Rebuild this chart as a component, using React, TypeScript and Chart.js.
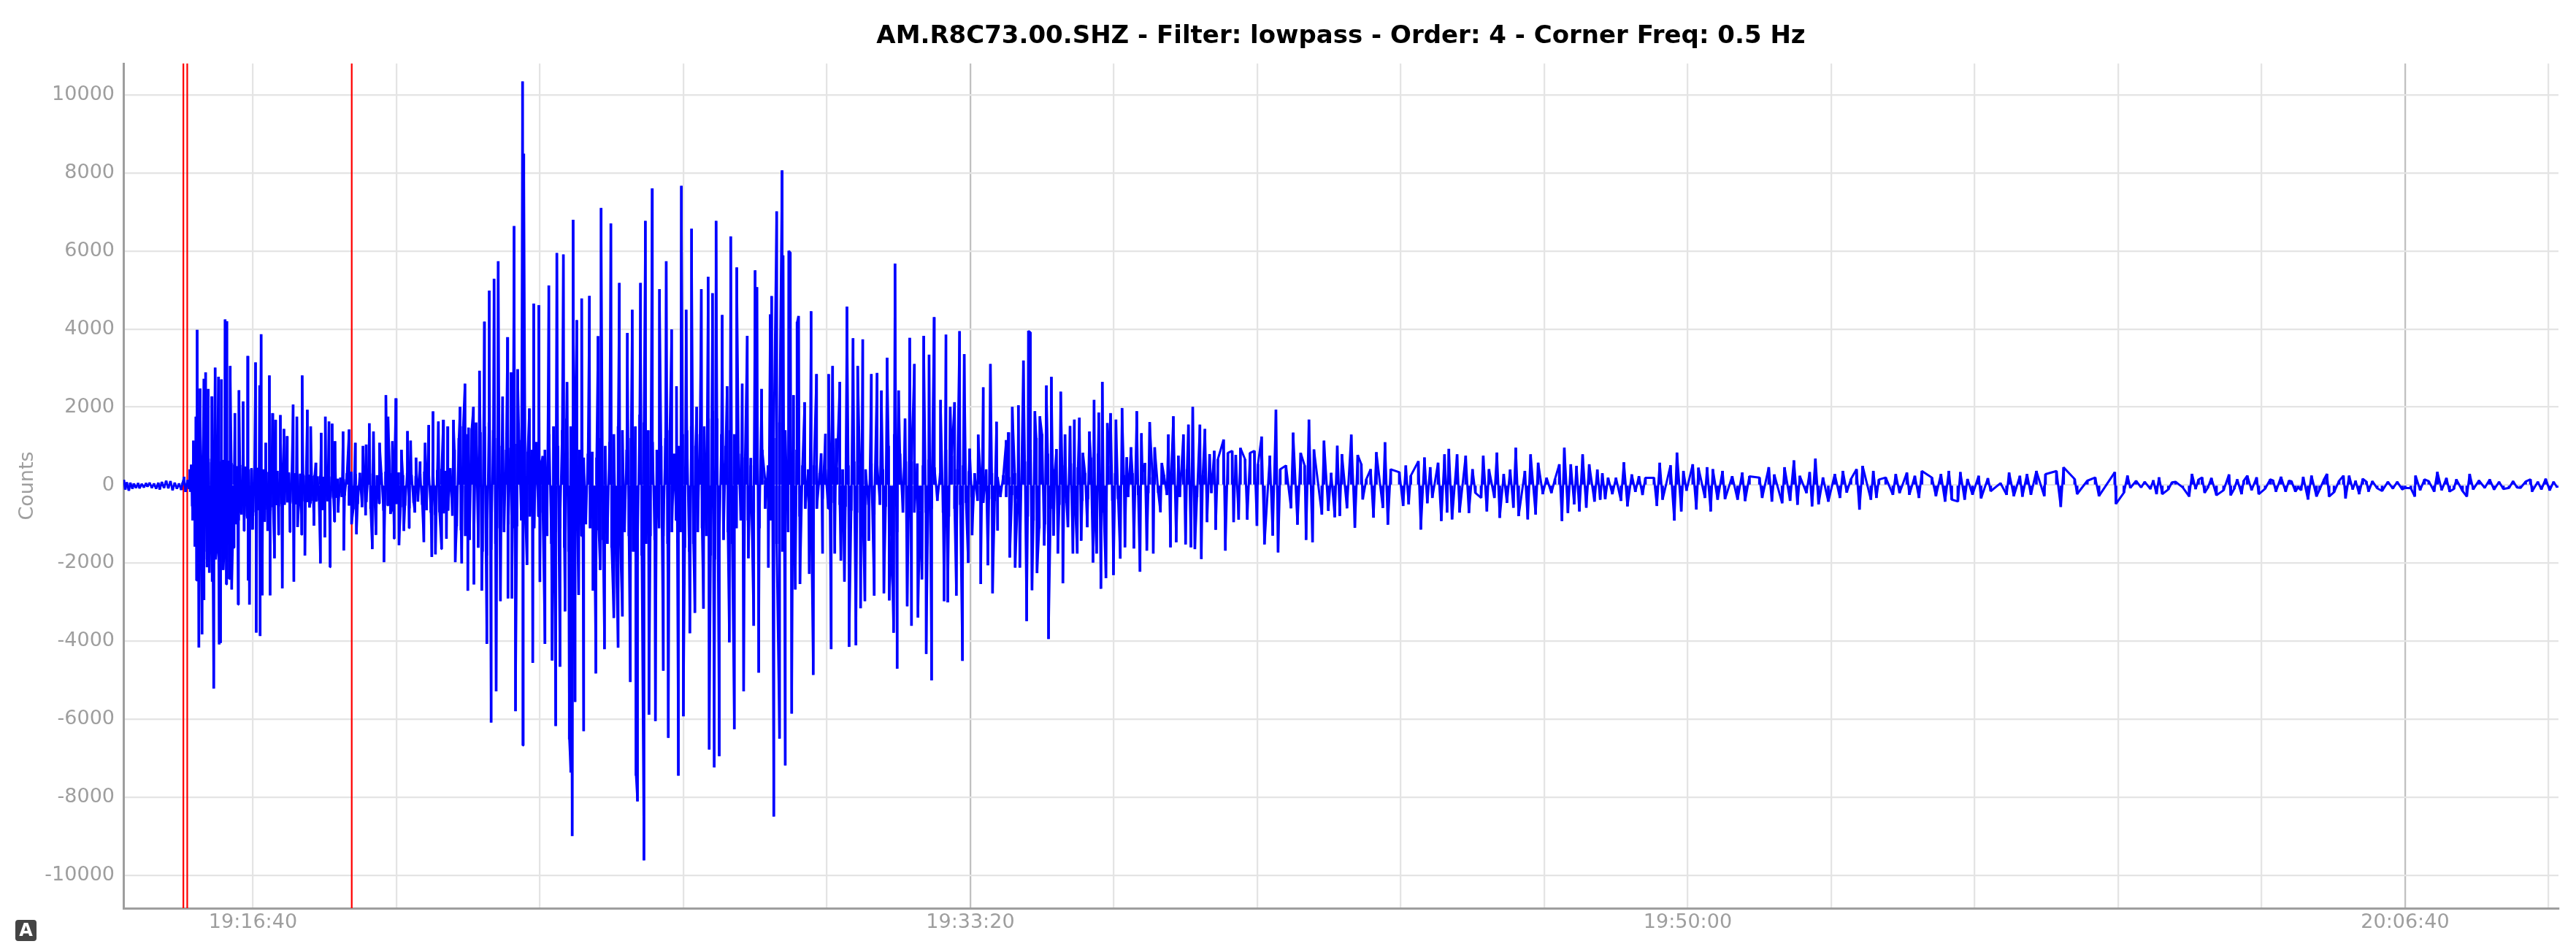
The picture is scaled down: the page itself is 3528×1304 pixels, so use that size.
import React, { useEffect, useRef } from "react";
import { Chart, registerables } from "chart.js";

Chart.register(...registerables);

const chartTitle = "AM.R8C73.00.SHZ - Filter: lowpass - Order: 4 - Corner Freq: 0.5 Hz";
const yAxisTitle = "Counts";
const countTicks = [-10000,-8000,-6000,-4000,-2000,0,2000,4000,6000,8000,10000];
const gridSeconds = [0,200,400,600,800,1000,1200,1400,1600,1800,2000,2200,2400,2600,2800,3000,3200];
const timeTickSeconds = [0, 1000, 2000, 3000];
const timeTickLabels = ["19:16:40", "19:33:20", "19:50:00", "20:06:40"];
const darkGridSeconds = [1000, 3000];
const pickSeconds = [-97, -91.6, 137.7];

// Seconds after 19:16:40, counts.
const noiseSeconds = [-180,-178,-176,-173,-171,-168,-166,-163,-160,-158,-155,-152,-149,-147,-144,-141,-138,-135,-132,-130,-127,-124,-121,-118,-115,-112,-109,-106,-103,-100,-98,-96,-94,-91,-89];
const noiseCounts = [130,-110,70,-140,60,-90,40,-70,50,-80,30,-60,50,-40,60,-70,40,-90,60,-110,80,-70,110,-80,100,-130,60,-90,40,-120,60,210,-170,130,-100];

const onsetPeakSeconds = [-88,-83,-79.5,-77.8,-73.7,-68.3,-66,-62.5,-57.4,-52.7,-48,-44,-38.8,-36.4,-31.7,-25.2,-19.5,-13.7,-7.3,3.6,9.3,11.4,17.8,22.9,27.3,31.4,38.2,43.2,47.6,56,61.2,68.7,75.8,80.5,87.6,95.1,100.9,106,110.4,114.4,125.6,134,142.6,153.4,157.8,162.2,168,176.5,185.3,188.3,194.4,199.2,207,215.4,219.8,227.3,233,240,245,251,258.5,265.3,271.4];
const onsetPeakCounts = [400,1135,1750,3975,2470,2720,2885,2460,2270,3005,2770,2705,4240,4195,3050,1840,2425,2140,3305,3140,2550,3860,1080,2805,1840,1670,1790,1435,1250,2060,1750,2805,1925,1500,570,1335,1750,1625,1570,1120,1370,1420,1080,1000,1035,1580,1370,1080,2300,1750,1120,2220,900,1380,1135,700,600,1080,1535,1885,1625,1670,1500];
const onsetTroughSeconds = [-87.3,-84.6,-81,-78.5,-75.4,-71,-68.3,-64,-60.8,-56.8,-54.7,-50.7,-47,-45.2,-41.5,-37,-33,-29.6,-26.9,-20.5,-16.8,-12.3,-6.6,-4.9,-0.5,4.6,10,13,16.4,20.5,23.9,30,35.8,40.9,48.3,51.7,57,62.2,68,72.4,78.8,85,94,96.8,100.2,107.6,113.7,118.8,126.6,137.5,144.3,157,166.3,171.4,182.6,191.7,196.8,203.6,210.4,217.8,225.6,238.2,249.3,254.4,262.9,269.7];
const onsetTroughCounts = [-167,-535,-1570,-2440,-4155,-3820,-2940,-2100,-2240,-2470,-5210,-1670,-4075,-4040,-2170,-2540,-2400,-2670,-1600,-3060,-700,-1170,-2440,-3060,-1135,-3775,-3860,-2820,-935,-1170,-2820,-1870,-1270,-2640,-400,-1200,-2470,-1070,-1270,-1800,-570,-1035,-2000,-635,-1335,-2100,-935,-700,-1670,-1000,-1255,-770,-1635,-1270,-1970,-735,-1370,-1535,-1170,-1100,-700,-1455,-1835,-1770,-1635,-1370];

const strongPeakSeconds = [279.5,288.7,295.5,300.5,307.3,315.8,322.6,329.4,336.1,341.9,348,354.8,359.9,364,369,375.8,377.5,385.3,391.4,398.5,404,412.4,423.6,432.7,437.8,446.3,451.4,458.2,469,481,485.3,498.9,510.7,521.9,528.7,540.2,547,556.5,566.7,576.1,583.6,590.4,597.2,603.9,611.4,618.5,625,634.5,640.6,645.6,654.1,660.9,666,674.4,682];
const strongPeakCounts = [1668,2000,2595,1470,2000,2926,4184,4978,5283,5733,2264,3787,2886,6633,2966,10340,8487,1960,4647,4607,741,5110,5945,5905,2635,6792,4224,4780,4846,3813,7097,6700,5177,3893,4488,5177,6766,7600,5018,5733,3985,2529,7666,4488,6567,2000,5018,5336,4912,6766,4356,2529,6368,5574,2595];
const strongTroughSeconds = [282,291,299.5,308,319,326,332,339,345,355.5,361,366,376.4,382,390,400,407,417,422,428,435,441,443,445,449,454,461,474,478,484,490,503,509,515,526,534,536,545,552,561,572,579,593,600,609,616,628,636,643,650,664,671,684];
const strongTroughCounts = [-1970,-2000,-2700,-2540,-2700,-4065,-6080,-5280,-2970,-2900,-2900,-5790,-6670,-2040,-4550,-2480,-4065,-4490,-6170,-4650,-3230,-6510,-7360,-8990,-5550,-2810,-6300,-2700,-4820,-2170,-4200,-3400,-4160,-3360,-5040,-7440,-8100,-9610,-5880,-6040,-4750,-6470,-7440,-5920,-3790,-3270,-3160,-6770,-7230,-6940,-4025,-6250,-5280];

const middlePeakSeconds = [689,694,700,702.5,709,714,721,723,730,737.5,739,747,749,753.5,758.5,760.5,769,778,785.5,792,798,802.5,808,813,818,828,836.5,843,850,862,870,876,884,895,900,909,915.5,922,935,942.5,949.5,958.5,966,972,978,985,991.5,999,1011,1018,1028,1036.5,1050,1053,1058.5,1067];
const middlePeakCounts = [3820,690,5500,5070,2460,120,4370,4840,7010,8060,5880,6000,5960,2300,4175,4330,2120,4450,2840,810,1310,2840,3050,1190,2640,4570,3760,3050,3730,2840,2870,2420,3260,5670,2420,1700,3770,3100,3820,3340,4300,2180,3850,2000,2120,3940,3350,930,1290,2500,3100,1620,1150,1350,2000,2040];
const middleTroughSeconds = [690.6,698,705,718.5,726,734,742,751,756,762.5,775.5,781,794,806,811,819.5,824.5,831,840.5,847,853,858.5,866,879.5,887,893,898,912,918,927,932.5,938.5,946,963.5,968.5,980.5,989,997,1002.5,1014.5,1024.5,1031,1038,1055,1062.5,1069];
const middleTroughCounts = [-1870,-3600,-4800,-2110,-8490,-6490,-7180,-5850,-2670,-2530,-2270,-4860,-1750,-4200,-1750,-1930,-2470,-4140,-4100,-3150,-2970,-1420,-2830,-2770,-2950,-3780,-4700,-3100,-3600,-3390,-2410,-4320,-5000,-2970,-3000,-2830,-4500,-1990,-1280,-2530,-2050,-2770,-1160,-1850,-2110,-2110];

const decayPeakSeconds = [1074,1081,1083.6,1090,1097,1106,1113,1120,1126,1132,1139,1145,1152,1157,1166,1172.5,1179,1184,1191,1195.5,1203,1211.5,1218,1224,1232,1238.5,1243.5,1250,1257,1267,1276,1283,1290,1297,1304,1310,1320,1327,1333.5,1340,1345,1353,1359,1365,1370,1376.5,1383,1390,1396,1401,1406,1417.5,1426,1432,1440,1450,1460.5,1466,1472,1479,1493,1503,1511.5,1518,1531,1540,1545,1552,1558,1566,1578];
const decayPeakCounts = [3190,3950,3915,1890,1760,2550,2770,920,2390,1295,1510,1675,1725,825,1370,2180,1855,2640,1585,1840,1675,1970,710,965,1890,1325,565,1610,965,565,1295,1760,750,1295,1545,2000,1545,1435,790,875,660,1165,825,875,770,950,660,825,875,535,1240,750,1930,405,500,1340,825,500,1675,910,1135,310,1005,790,1290,770,535,150,405,840,1095];
const decayTroughSeconds = [1078.5,1086,1093,1103,1109,1116,1122,1129,1136,1143,1149,1154.5,1163,1171,1176,1182,1189,1199.5,1209,1215.5,1228,1236.5,1246,1255,1265,1279,1287,1300,1307.5,1313,1322,1330,1342,1355.5,1367,1374,1386,1399.5,1410,1421.5,1429,1447,1456,1468,1477,1490,1499,1508,1515,1525,1536,1547,1562,1575];
const decayTroughCounts = [-3480,-2690,-2250,-1545,-3940,-1290,-1750,-2510,-1075,-1750,-1750,-1420,-1075,-1980,-1750,-2650,-2380,-2300,-1880,-1590,-1620,-2215,-1675,-1750,-690,-1590,-1460,-1515,-1590,-1635,-1890,-945,-1140,-1675,-945,-880,-880,-1040,-1515,-1290,-1720,-590,-1010,-1400,-1460,-750,-655,-820,-785,-590,-1090,-365,-830,-580];

const surfacePeakSeconds = [1586,1598,1607,1614,1624.5,1633,1641,1652,1661,1667,1678.5,1690.5,1700,1715,1723,1734,1743.5,1752.5,1760.3,1773,1781,1791.5,1803.3,1815,1821,1828,1837,1845,1853.5,1862.7,1874,1881,1889,1900,1911,1922,1932,1941,1953,1961,1976,1985,1994,2007,2015,2027,2035,2048.5,2062,2076,2086];
const surfacePeakCounts = [405,330,500,240,610,705,455,570,785,925,785,750,405,750,405,830,280,395,955,360,785,570,187,155,530,955,530,487,785,530,395,300,187,187,580,270,225,187,187,570,505,830,360,530,443,455,405,360,225,318,225];
const surfaceTroughSeconds = [1582,1603.3,1611,1628,1637,1644,1656.5,1664.5,1671.5,1682,1695,1704,1712,1720,1730.5,1738,1748,1757,1764.3,1777,1788,1798,1810,1824.7,1833,1841.7,1849,1858.6,1870,1878,1885,1895,1907,1916,1927,1937,1957,1965,1981.3,1991,1998.3,2012,2024,2032,2041.7,2052,2069.5,2080];
const surfaceTroughCounts = [-1010,-530,-490,-1135,-460,-325,-915,-700,-875,-700,-710,-200,-325,-670,-325,-835,-450,-575,-790,-875,-750,-230,-200,-915,-710,-490,-670,-575,-420,-370,-355,-230,-400,-540,-170,-250,-530,-370,-905,-670,-140,-620,-325,-670,-370,-355,-370,-405];

const codaPeakSeconds = [2100,2113,2120.7,2135,2148,2156.3,2170,2178,2188.5,2205,2216.3,2227.5,2235.3,2243.8,2258.7,2266.5,2276,2290,2305.5,2316.6,2326.5,2340.4,2353,2364,2380,2390,2405.5,2418.4,2436,2448,2463,2473,2486,2498.7,2514,2524,2539.4,2557,2568,2595.3];
const codaPeakCounts = [193,455,270,455,630,235,330,675,193,280,360,155,405,487,360,143,193,280,318,235,360,193,280,360,330,155,235,175,50,318,235,280,360,280,360,455,155,112,193,330];
const codaTroughSeconds = [2103.8,2117.3,2131.6,2142.7,2153,2165.5,2173.3,2182.4,2196,2212.2,2221.7,2239.4,2255.3,2263,2286,2295.3,2309,2322.4,2346,2358.7,2368,2376.6,2386,2397,2409,2422.4,2444.5,2454.6,2466.5,2478.4,2497,2520,2542.8,2573.3,2597];
const codaTroughCounts = [-325,-420,-460,-400,-500,-200,-540,-490,-420,-325,-190,-625,-370,-325,-245,-200,-245,-325,-280,-420,-370,-420,-370,-245,-337,-155,-245,-280,-293,-245,-280,-555,-230,-280,-480];

const tailPeakSeconds = [2613,2637,2657,2680,2703,2717,2730,2754.5,2766,2780,2793,2812,2827,2841.6,2858,2869.5,2891,2914,2922,2941,2954.4,2976,2989,3014.6,3027,3045,3057.6,3071.5,3090,3118,3150.5,3174.7,3196];
const tailPeakCounts = [240,85,195,85,285,195,180,270,145,240,195,145,210,100,210,240,285,240,240,160,100,85,85,240,145,335,180,145,285,145,100,145,160];
const tailTroughSeconds = [2608,2653.5,2661.5,2699,2720.6,2737,2757,2772,2796,2820,2833.5,2847,2864.6,2876.5,2894,2917,2936,2949,2968,3000,3013.5,3040.5,3062,3086,3124,3137,3161,3177,3201.6,3212];
const tailTroughCounts = [-195,-230,-230,-290,-195,-260,-260,-230,-230,-165,-165,-165,-365,-290,-290,-340,-230,-165,-150,-70,-290,-165,-165,-290,-115,-100,-70,-165,-135,-60];
const tailRippleSeconds = [2617,2625,2632,2645,2649,2670,2675,2690,2708,2712,2725,2747,2762,2775,2786,2805,2816,2838,2851,2855,2881,2887,2901,2908,2927,2931,2946,2961,2983,2996,3008,3021,3033,3051,3068,3080,3095,3103,3111,3131,3145,3156,3168,3185,3190,3207];
const tailRippleCounts = [-70,110,-60,-100,120,-110,70,-60,-100,140,-70,-130,-90,110,-130,-90,120,110,-60,-130,-110,150,-180,110,-110,110,90,-80,-90,-110,-80,-130,100,-130,-100,-150,-110,120,-70,85,-70,-60,90,85,-110,85];

// Inner oscillations inside the solid core of the trace, as second,count pairs.
const onsetCorePairs = [-86,520,-84,-900,-82,610,-80,-1400,-78,640,-76,-1500,-74,600,-72,-1650,-70,660,-68,-1700,-66,620,-64,-1900,-62,580,-60,-1750,-58,670,-56,-1800,-54,640,-52,-1900,-50,610,-48,-1700,-46,600,-44,-1650,-42,640,-40,-1800,-38,590,-36,-1500,-34,620,-32,-1600,-30,560,-28,-1450,-26,520,-24,-1000,-22,480,-20,-900,-18,510,-16,-750,-14,430,-12,-800,-10,470,-8,-850,-6,400,-4,-720,-2,430,0,-780,2,390,4,-690,6,440,8,-640,10,360,12,-600,14,400,16,-580,18,370,20,-620,22,330,24,-650,26,380,28,-560,30,340,32,-510,34,360,36,-540,38,310,40,-480,42,330,44,-500,46,290,48,-440,50,320,52,-470,54,280,56,-430,58,300,60,-490,62,260,64,-520,66,290,68,-450,70,270,72,-410,74,240,76,-430,78,260,80,-460,82,230,84,-400,86,250,88,-420,90,220,92,-390,94,240,96,-360,98,210,100,-380,102,190,104,-410,106,220,108,-340,110,200,112,-300,114,180,116,-320,118,160,120,-280,122,190,124,-300,126,150,128,-260];
const earlyCorePairs = [131,300,134,-520,137,340,140,-610,143,280,146,-480,149,310,152,-560,155,260,158,-430,161,330,164,-600,167,290,170,-540,173,250,176,-470,179,310,182,-650,185,340,188,-520,191,300,194,-610,197,270,200,-480,203,320,206,-560,209,250,212,-520,215,300,218,-590,221,260,224,-450,227,230,230,-420,233,280,236,-500,239,340,242,-640,245,390,248,-700,251,420,254,-760,257,380,260,-690,263,410,266,-720,269,360,272,-650,275,430,278,-780];
const strongCorePairs = [281,900,284,-1050,287,1200,290,-1150,293,1500,296,-1300,299,1300,302,-1400,305,1450,308,-1500,311,1600,314,-1600,317,1350,320,-1700,323,1500,326,-1800,329,1600,332,-1650,335,1400,338,-1500,341,1200,344,-1100,347,1000,350,-1200,353,900,356,-1000,359,950,362,-1100,365,1050,368,-1050,371,1150,374,-900,377,1000,380,-950,383,850,386,-800,389,900,392,-1100,395,1100,398,-800,401,500,404,-700,407,900,410,-1300,413,1300,416,-1500,419,1500,422,-1200,425,1000,428,-1100,431,1400,434,-1600,437,1700,440,-1700,443,1500,446,-1400,449,1200,452,-1100,455,900,458,-1300,461,700,464,-1000,467,800,470,-1100,473,850,476,-1300,479,700,482,-1150,485,1200,488,-1400,491,1000,494,-1500,497,1100,500,-1600,503,1300,506,-1700,509,1500,512,-1500,515,1400,518,-1200,521,900,524,-1300,527,1200,530,-1700,533,1500,536,-1900,539,1800,542,-1800,545,1600,548,-1500,551,1400,554,-1300,557,1100,560,-1400,563,900,566,-1100,569,1000,572,-1300,575,1200,578,-1500,581,1400,584,-1200,587,800,590,-900,593,1000,596,-1200,599,1300,602,-1600,605,1400,608,-1700,611,1500,614,-1500,617,1000,620,-1200,623,1300,626,-1100,629,1500,632,-1300,635,1700,638,-1800,641,1900,644,-1900,647,1700,650,-1600,653,1300,656,-1400,659,1000,662,-1200,665,1400,668,-1500,671,1300,674,-1100,677,800,680,-900];
const middleCorePairs = [686,700,690,-900,694,500,698,-700,702,800,706,-1100,710,900,714,-600,718,500,722,-900,726,1200,730,-1500,734,1600,738,-1700,742,1400,746,-1200,750,800,754,-1000,758,900,762,-800,766,500,770,-600,774,400,778,-500,782,500,786,-600,790,300,794,-350,798,400,802,-600,806,500,810,-450,814,450,818,-500,822,400,826,-550,830,500,834,-650,838,600,842,-700,846,500,850,-650,854,400,858,-500,862,550,866,-750,870,600,874,-500,878,400,882,-550,886,1000,890,-1300,894,1300,898,-1200,902,800,906,-700,910,600,914,-800,918,600,922,-700,926,550,930,-650,934,500,938,-700,942,650,946,-600,950,450,954,-400,958,300,962,-700,966,900,970,-800,974,750,978,-600,982,400,986,-500,990,500,994,-450,998,350,1002,-300,1006,300,1010,-400,1014,250,1018,-450,1022,400,1026,-350,1030,300,1034,-400,1038,200,1042,-300,1046,250,1050,-300,1054,200,1058,-250,1062,300,1066,-350];
const decayCorePairs = [1076,600,1080,-800,1084,900,1088,-900,1092,1200,1096,-1100,1100,1300,1104,-1000,1108,800,1112,-600,1118,400,1124,-500,1128,500,1134,-450,1140,550,1146,-500,1150,450,1156,-400,1160,300,1164,-350,1168,700,1174,-900,1178,800,1186,-700,1192,500,1198,-400,1202,300,1206,-350,1214,250,1220,-300,1226,300,1234,-250,1240,300,1248,-200,1254,200,1262,-200,1270,250,1274,-250,1280,300,1292,-300,1302,400,1316,-300,1324,250,1336,-200];

const traceSecondsLists = [noiseSeconds, onsetPeakSeconds, onsetTroughSeconds, strongPeakSeconds, strongTroughSeconds, middlePeakSeconds, middleTroughSeconds, decayPeakSeconds, decayTroughSeconds, surfacePeakSeconds, surfaceTroughSeconds, codaPeakSeconds, codaTroughSeconds, tailPeakSeconds, tailTroughSeconds, tailRippleSeconds];
const traceCountLists = [noiseCounts, onsetPeakCounts, onsetTroughCounts, strongPeakCounts, strongTroughCounts, middlePeakCounts, middleTroughCounts, decayPeakCounts, decayTroughCounts, surfacePeakCounts, surfaceTroughCounts, codaPeakCounts, codaTroughCounts, tailPeakCounts, tailTroughCounts, tailRippleCounts];
const corePairLists = [onsetCorePairs, earlyCorePairs, strongCorePairs, middleCorePairs, decayCorePairs];

const X_MIN = -180.6;
const X_MAX = 3213.8;
const Y_MIN = -10842;
const Y_MAX = 10804;
const GREY = "#9e9e9e";

function buildTrace() {
  const pts: { x: number; y: number }[] = [];
  traceSecondsLists.forEach((list, k) => {
    list.forEach((x, i) => {
      const y = traceCountLists[k][i];
      if (y !== undefined) pts.push({ x, y });
    });
  });
  corePairLists.forEach((pairs) => {
    for (let i = 0; i + 1 < pairs.length; i += 2) pts.push({ x: pairs[i], y: pairs[i + 1] });
  });
  return pts.sort((a, b) => a.x - b.x);
}

export default function App() {
  const ref = useRef<HTMLCanvasElement | null>(null);
  useEffect(() => {
    document.body.style.margin = "0";
    document.body.style.background = "#fff";
    const trace = buildTrace();
    const chart = new Chart(ref.current as HTMLCanvasElement, {
      type: "line",
      data: {
        datasets: [
          {
            label: "trace",
            data: trace,
            borderColor: "#0000ff",
            borderWidth: 3,
            borderJoinStyle: "bevel",
            pointRadius: 0,
            tension: 0,
            fill: false,
            order: 1,
          },
          {
            type: "bar",
            label: "extremes",
            data: trace,
            backgroundColor: "#0000ff",
            borderWidth: 0,
            barThickness: 3,
            grouped: false,
            order: 1,
          },
          ...pickSeconds.map((s, i) => ({
            label: "pick " + i,
            data: [
              { x: s, y: Y_MIN },
              { x: s, y: Y_MAX },
            ],
            borderColor: "#ff0000",
            borderWidth: 2.25,
            pointRadius: 0,
            fill: false,
            order: 2,
          })),
        ],
      },
      options: {
        responsive: false,
        devicePixelRatio: 1,
        animation: false,
        parsing: false,
        layout: { padding: { left: 0, right: 24, top: 0, bottom: 0 } },
        plugins: {
          legend: { display: false },
          tooltip: { enabled: false },
          title: {
            display: true,
            fullSize: false,
            text: chartTitle,
            color: "#000",
            font: { family: "DejaVu Sans", size: 34, weight: "bold" },
            padding: { top: 30, bottom: 16.2 },
          },
        },
        scales: {
          x: {
            type: "linear",
            min: X_MIN,
            max: X_MAX,
            offset: false,
            afterFit: (s: any) => {
              s.height = 60;
            },
            afterBuildTicks: (s: any) => {
              s.ticks = gridSeconds.map((value) => ({ value }));
            },
            border: { color: GREY, width: 3 },
            grid: {
              offset: false,
              drawTicks: false,
              lineWidth: 2.25,
              color: (c: any) =>
                darkGridSeconds.includes(c.tick?.value) ? "#c0c0c0" : "#e4e4e4",
            },
            ticks: {
              autoSkip: false,
              maxRotation: 0,
              padding: 4,
              color: GREY,
              font: { family: "DejaVu Sans", size: 27 },
              callback: (v: any) => {
                const i = timeTickSeconds.indexOf(v);
                return i >= 0 ? timeTickLabels[i] : "";
              },
            },
          },
          y: {
            type: "linear",
            min: Y_MIN,
            max: Y_MAX,
            afterFit: (s: any) => {
              s.width = 169;
            },
            afterBuildTicks: (s: any) => {
              s.ticks = countTicks.map((value) => ({ value }));
            },
            title: {
              display: true,
              text: yAxisTitle,
              color: GREY,
              font: { family: "DejaVu Sans", size: 27 },
              padding: { top: 22, bottom: 0 },
            },
            border: { color: GREY, width: 3 },
            grid: { drawTicks: false, lineWidth: 2.25, color: "#e4e4e4" },
            ticks: {
              autoSkip: false,
              padding: 12,
              color: GREY,
              font: { family: "DejaVu Sans", size: 27 },
              callback: (v: any) => String(v),
            },
          },
        },
      },
    } as any);
    return () => chart.destroy();
  }, []);
  return (
    <div style={{ position: "relative", width: 3528, height: 1304, background: "#fff", overflow: "hidden" }}>
      <canvas ref={ref} width={3528} height={1304} style={{ display: "block", width: 3528, height: 1304 }} />
      <div
        style={{
          position: "absolute",
          left: 21,
          top: 1260,
          width: 29,
          height: 29,
          borderRadius: 4,
          background: "#444",
          color: "#fff",
          fontFamily: "DejaVu Sans",
          fontWeight: "bold",
          fontSize: 24,
          lineHeight: "29px",
          textAlign: "center",
        }}
      >
        A
      </div>
    </div>
  );
}
